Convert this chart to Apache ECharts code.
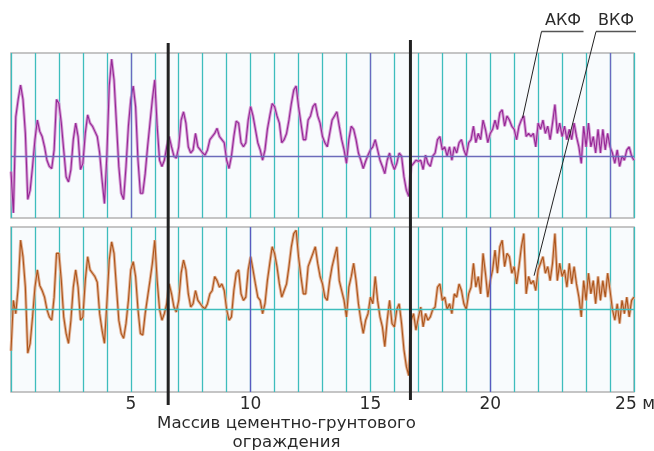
<!DOCTYPE html>
<html><head><meta charset="utf-8">
<script src="https://cdn.jsdelivr.net/npm/echarts@6/dist/echarts.min.js"></script>
<style>html,body{margin:0;padding:0;background:#fff}#c{width:654px;height:451px}</style>
</head><body><div id="c"></div>
<script>
// sampling step along the profile, metres
const step = 0.1;
// АКФ (top panel) readings, every 0.1 m from 0 to 26 m
const akf = [
-0.15,-0.55,0.38,0.55,0.69,0.55,0.22,-0.42,-0.33,-0.10,
0.16,0.35,0.24,0.19,0.09,-0.04,-0.10,-0.12,0.06,0.55,
0.51,0.32,0.06,-0.20,-0.25,-0.13,0.16,0.32,0.19,-0.13,
-0.07,0.22,0.40,0.32,0.29,0.24,0.19,0.03,-0.23,-0.46,
0.00,0.68,0.94,0.74,0.32,-0.10,-0.36,-0.42,-0.10,0.29,
0.55,0.68,0.48,-0.04,-0.36,-0.36,-0.17,0.09,0.32,0.55,
0.74,0.29,-0.04,-0.10,-0.04,0.09,0.19,0.09,0.00,-0.02,
0.09,0.35,0.43,0.32,0.09,0.03,0.06,0.22,0.09,0.06,
0.03,0.01,0.06,0.16,0.19,0.22,0.27,0.19,0.16,0.13,
-0.04,-0.12,0.00,0.19,0.34,0.32,0.13,0.09,0.13,0.35,
0.48,0.39,0.26,0.13,0.06,-0.04,0.06,0.26,0.39,0.51,
0.48,0.39,0.32,0.13,0.16,0.22,0.35,0.51,0.64,0.68,
0.48,0.32,0.16,0.16,0.35,0.39,0.48,0.51,0.39,0.32,
0.19,0.13,0.09,0.22,0.35,0.39,0.43,0.29,0.16,0.06,
-0.07,0.16,0.29,0.26,0.16,0.03,-0.04,-0.12,-0.05,0.01,
0.06,0.09,0.16,0.06,-0.04,-0.10,-0.17,-0.04,0.03,-0.07,
-0.13,-0.07,0.03,0.00,-0.20,-0.33,-0.39,-0.10,-0.07,-0.04,
-0.05,-0.04,-0.13,0.01,-0.07,-0.10,0.00,0.03,0.16,0.19,
0.06,0.09,0.00,0.09,-0.04,0.09,0.03,0.13,0.16,0.06,
0.00,0.13,0.16,0.29,0.13,0.22,0.16,0.35,0.26,0.13,
0.22,0.26,0.35,0.26,0.42,0.45,0.29,0.39,0.35,0.29,
0.26,0.16,0.29,0.35,0.39,0.19,0.22,0.19,0.22,0.09,
0.32,0.26,0.35,0.22,0.29,0.16,0.32,0.50,0.22,0.32,
0.19,0.29,0.16,0.26,0.16,0.32,0.19,0.09,-0.07,0.29,
0.09,0.32,0.09,0.19,0.03,0.26,0.03,0.26,0.06,0.22,
0.09,0.03,-0.07,0.06,-0.10,0.00,-0.04,0.06,0.09,0.00,
-0.04
];
// ВКФ (bottom panel) readings, every 0.1 m from 0 to 26 m
const vkf = [
-0.50,0.11,-0.05,0.27,0.84,0.64,0.27,-0.53,-0.41,-0.09,
0.27,0.48,0.29,0.23,0.15,0.00,-0.09,-0.13,0.15,0.68,
0.68,0.35,-0.09,-0.29,-0.41,-0.13,0.27,0.48,0.27,-0.13,
-0.09,0.35,0.64,0.48,0.44,0.40,0.33,-0.05,-0.25,-0.41,
0.07,0.60,0.82,0.68,0.27,-0.13,-0.29,-0.35,-0.17,0.11,
0.48,0.58,0.40,0.00,-0.29,-0.31,-0.05,0.15,0.35,0.56,
0.84,0.35,0.00,-0.13,-0.05,0.07,0.31,0.19,0.03,-0.03,
0.11,0.44,0.60,0.48,0.19,0.03,0.07,0.23,0.11,0.07,
0.03,0.01,0.07,0.19,0.23,0.40,0.35,0.27,0.31,0.23,
0.00,-0.13,-0.09,0.23,0.44,0.48,0.19,0.11,0.15,0.48,
0.64,0.48,0.31,0.15,0.11,-0.05,0.07,0.35,0.56,0.76,
0.68,0.52,0.31,0.15,0.23,0.31,0.52,0.76,0.92,0.96,
0.64,0.40,0.19,0.19,0.52,0.60,0.68,0.76,0.56,0.40,
0.31,0.15,0.11,0.35,0.52,0.64,0.76,0.35,0.23,0.11,
-0.09,0.27,0.40,0.56,0.35,0.07,-0.13,-0.29,-0.13,-0.05,
0.15,0.07,0.40,0.11,-0.09,-0.21,-0.45,-0.13,0.11,-0.17,
-0.21,0.00,0.07,-0.17,-0.49,-0.69,-0.80,-0.13,-0.05,-0.25,
-0.10,0.03,-0.21,-0.05,-0.13,-0.09,0.00,0.03,0.27,0.31,
0.11,0.15,0.00,0.07,-0.05,0.19,0.15,0.31,0.23,0.07,
0.00,0.19,0.27,0.56,0.27,0.40,0.19,0.68,0.44,0.15,
0.35,0.48,0.72,0.44,0.76,0.84,0.52,0.68,0.64,0.44,
0.52,0.31,0.52,0.76,0.92,0.19,0.40,0.31,0.35,0.23,
0.48,0.56,0.64,0.44,0.52,0.35,0.56,0.92,0.35,0.56,
0.40,0.48,0.27,0.56,0.31,0.52,0.31,0.15,-0.09,0.35,
0.11,0.44,0.19,0.35,0.07,0.40,0.11,0.35,0.15,0.44,
0.23,0.00,-0.13,0.07,-0.17,0.11,-0.05,0.15,-0.09,0.11,
0.15
];
const xTickLabels = [5, 10, 15, 20, 25];
const unitLabel = 'м';
const blueLinesTop = [5, 15, 25];
const blueLinesBottom = [10, 20];
const wallEdges = [6.56, 16.67];
const akfPointer = [21.35, 0.37];
const vkfPointer = [21.83, 0.41];
const seriesNames = ['АКФ', 'ВКФ'];
const caption = 'Массив цементно-грунтового\nограждения';

const toPairs = arr => arr.map((v, i) => [Math.round(i * step * 10) / 10, v]);
const FONT = '"DejaVu Sans", Verdana, sans-serif';
const TEAL = '#3dbdbd';

const chart = echarts.init(document.getElementById('c'), null, {renderer: 'canvas'});

function gridDef(top) {
  return {left: 11, top: top, width: 623, height: 165, show: true, outerBoundsMode: 'none',
    containLabel: false,
    backgroundColor: '#f8fbfd', borderColor: '#b3b3b3', borderWidth: 1.5};
}
function xAxisDef(idx, labels) {
  return {
    gridIndex: idx, type: 'value', min: 0, max: 26, interval: 1,
    axisLine: {show: false}, axisTick: {show: false},
    splitLine: {show: true, lineStyle: {color: TEAL, width: 1.3}},
    axisLabel: labels ? {
      show: true, color: '#2a2a2a', fontSize: 17, fontFamily: FONT, margin: 4,
      hideOverlap: false,
      formatter: v => {
        if (!xTickLabels.includes(v)) return '';
        if (v === 25) return '{p|}' + v + ' ' + unitLabel;
        return String(v);
      },
      rich: {p: {width: 50}}
    } : {show: false}
  };
}
function markLines(blue, zeroColor, blueColor) {
  return {
    silent: true, symbol: ['none', 'none'], label: {show: false},
    animation: false,
    data: [{yAxis: 0, lineStyle: {color: zeroColor, width: 1.4, type: 'solid'}}]
      .concat(blue.map(x => ({xAxis: x, lineStyle: {color: blueColor, width: 1.3, type: 'solid'}})))
  };
}
function curve(idx, data, color, width, z, ml) {
  const s = {
    type: 'line', xAxisIndex: idx, yAxisIndex: idx, data: data,
    showSymbol: false, symbol: 'none', smooth: false, z: z,
    lineStyle: {color: color, width: width}, animation: false
  };
  if (ml) s.markLine = ml;
  return s;
}

chart.setOption({
  animation: false,
  backgroundColor: '#ffffff',
  textStyle: {fontFamily: FONT},
  grid: [gridDef(53), gridDef(227)],
  xAxis: [xAxisDef(0, false), xAxisDef(1, true)],
  yAxis: [
    {gridIndex: 0, type: 'value', min: -0.6, max: 1.0, show: false, splitLine: {show: false}},
    {gridIndex: 1, type: 'value', min: -1, max: 1, show: false, splitLine: {show: false}}
  ],
  series: [
    curve(0, toPairs(akf), '#d49bd4', 3, 2, markLines(blueLinesTop, '#6b6bbb', '#6a6ac0')),
    curve(0, toPairs(akf), '#962896', 1.1, 3),
    curve(1, toPairs(vkf), '#e2b397', 3, 2, markLines(blueLinesBottom, TEAL, '#5a5ac0')),
    curve(1, toPairs(vkf), '#ad561c', 1.1, 3)
  ]
});

// annotation overlay positioned through the chart's own scales
const w0 = chart.convertToPixel({xAxisIndex: 1}, wallEdges[0]);
const w1 = chart.convertToPixel({xAxisIndex: 1}, wallEdges[1]);
const pA = chart.convertToPixel({gridIndex: 0}, akfPointer);
const pV = chart.convertToPixel({gridIndex: 1}, vkfPointer);
const lblA = {x: 563, y: 21, ux0: 541.5, ux1: 583.5, uy: 31.5};
const lblV = {x: 616, y: 21, ux0: 596, ux1: 636, uy: 31.5};

chart.setOption({
  graphic: [
    {type: 'line', z: 100, shape: {x1: w0, y1: 43, x2: w0, y2: 405}, style: {stroke: '#222', lineWidth: 3}},
    {type: 'line', z: 100, shape: {x1: w1, y1: 40, x2: w1, y2: 400}, style: {stroke: '#222', lineWidth: 3}},
    {type: 'line', z: 100, shape: {x1: lblA.ux0, y1: lblA.uy, x2: lblA.ux1, y2: lblA.uy}, style: {stroke: '#555', lineWidth: 1.3}},
    {type: 'line', z: 100, shape: {x1: lblA.ux0, y1: lblA.uy, x2: pA[0], y2: pA[1]}, style: {stroke: '#222', lineWidth: 1}},
    {type: 'line', z: 100, shape: {x1: lblV.ux0, y1: lblV.uy, x2: lblV.ux1, y2: lblV.uy}, style: {stroke: '#555', lineWidth: 1.3}},
    {type: 'line', z: 100, shape: {x1: lblV.ux0, y1: lblV.uy, x2: pV[0], y2: pV[1]}, style: {stroke: '#222', lineWidth: 1}},
    {type: 'text', z: 100, style: {text: seriesNames[0], x: lblA.x, y: lblA.y, align: 'center', verticalAlign: 'middle', fontSize: 16, fontFamily: FONT, fill: '#2a2a2a'}},
    {type: 'text', z: 100, style: {text: seriesNames[1], x: lblV.x, y: lblV.y, align: 'center', verticalAlign: 'middle', fontSize: 16, fontFamily: FONT, fill: '#2a2a2a'}},
    {type: 'text', z: 100, style: {text: caption, x: 286.5, y: 433.5, align: 'center', verticalAlign: 'middle', fontSize: 16.6, lineHeight: 19, fontFamily: FONT, fill: '#2a2a2a'}}
  ]
});
</script>
</body></html>
